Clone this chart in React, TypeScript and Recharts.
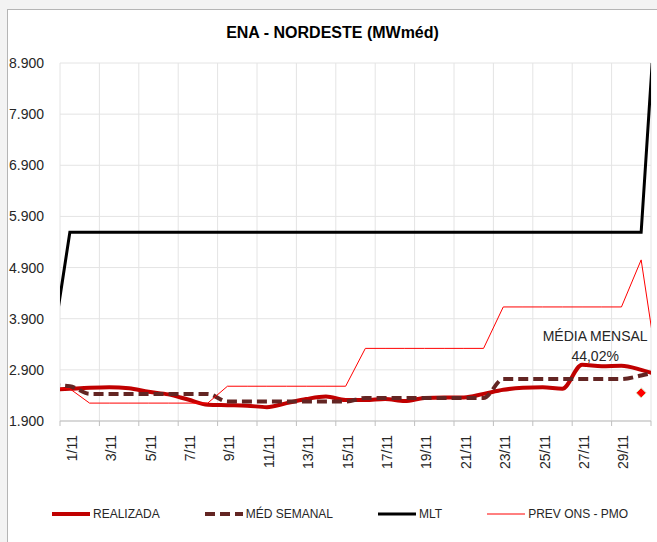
import { ComposedChart, Line, Scatter, XAxis, YAxis, CartesianGrid, Legend } from "recharts";

// dias de novembro (0 = 31/10, 31 = 1/12, cortados pela área do gráfico)
const days = [0, 1, 2, 3, 4, 5, 6, 7, 8, 9, 10, 11, 12, 13, 14, 15, 16, 17, 18, 19, 20, 21, 22, 23, 24, 25, 26, 27, 28, 29, 30, 31];

const realizada = [2510, 2530, 2550, 2560, 2540, 2470, 2420, 2320, 2220, 2210, 2200, 2170, 2250, 2330, 2380, 2310, 2310, 2330, 2290, 2350, 2360, 2360, 2430, 2510, 2550, 2560, 2530, 3000, 2970, 2980, 2900, 2780];
const medSemanal = [2600, 2580, 2430, 2430, 2430, 2430, 2430, 2430, 2430, 2280, 2280, 2280, 2280, 2280, 2280, 2280, 2350, 2350, 2350, 2350, 2350, 2350, 2350, 2720, 2720, 2720, 2720, 2720, 2720, 2720, 2790, 2880];
const mlt = [3070, 5590, 5590, 5590, 5590, 5590, 5590, 5590, 5590, 5590, 5590, 5590, 5590, 5590, 5590, 5590, 5590, 5590, 5590, 5590, 5590, 5590, 5590, 5590, 5590, 5590, 5590, 5590, 5590, 5590, 5590, 11500];
const prevOns = [2530, 2530, 2250, 2250, 2250, 2250, 2250, 2250, 2250, 2580, 2580, 2580, 2580, 2580, 2580, 2580, 3320, 3320, 3320, 3320, 3320, 3320, 3320, 4130, 4130, 4130, 4130, 4130, 4130, 4130, 5050, 2500];

const mediaMensalDay = 30;
const mediaMensalValue = 2450;
const mediaMensalText = ["MÉDIA MENSAL", "44,02%"];

const yTicks = [1900, 2900, 3900, 4900, 5900, 6900, 7900, 8900];
const gridTicks = [0.5, 2.5, 4.5, 6.5, 8.5, 10.5, 12.5, 14.5, 16.5, 18.5, 20.5, 22.5, 24.5, 26.5, 28.5, 30.5];
const labelTicks = [1, 3, 5, 7, 9, 11, 13, 15, 17, 19, 21, 23, 25, 27, 29];

const data = days.map((day, i) => ({
  day,
  realizada: realizada[i],
  medSemanal: medSemanal[i],
  mlt: mlt[i],
  prevOns: prevOns[i],
}));
const mediaData = [{ day: mediaMensalDay, media: mediaMensalValue }];

const series = [
  { key: "realizada", name: "REALIZADA", color: "#c00000", width: 4, dash: undefined as string | undefined },
  { key: "medSemanal", name: "MÉD SEMANAL", color: "#632523", width: 4, dash: "10 5" },
  { key: "mlt", name: "MLT", color: "#000000", width: 3, dash: undefined },
  { key: "prevOns", name: "PREV ONS - PMO", color: "#ff0000", width: 1, dash: undefined },
];

const FONT = '"Liberation Sans", Arial, sans-serif';
const TEXT = "#262626";

const fmtMil = (v: number) => `${Math.floor(v / 1000)}.${String(v % 1000).padStart(3, "0")}`;

function DayTick({ x, y, payload }: any) {
  return (
    <text
      x={x}
      y={y}
      transform={`rotate(-90, ${x}, ${y})`}
      textAnchor="end"
      dy="0.5em"
      fontSize={14}
      fill={TEXT}
    >
      {`${payload.value}/11`}
    </text>
  );
}

function MediaShape({ cx, cy }: any) {
  if (cx == null || cy == null) return null;
  return (
    <g>
      <path
        d={`M${cx},${cy - 5}L${cx + 5},${cy}L${cx},${cy + 5}L${cx - 5},${cy}Z`}
        fill="#ff0000"
        stroke="#d7e4bd"
        strokeWidth={1}
      />
      <text x={cx - 46} y={cy - 52} textAnchor="middle" fontSize={14} fill={TEXT}>
        {mediaMensalText[0]}
      </text>
      <text x={cx - 46} y={cy - 32} textAnchor="middle" fontSize={14} fill={TEXT}>
        {mediaMensalText[1]}
      </text>
    </g>
  );
}

function LegendContent() {
  return (
    <div
      style={{
        display: "flex",
        alignItems: "center",
        gap: 45,
        paddingLeft: 44,
        height: 16,
        fontSize: 12,
        color: TEXT,
        fontFamily: FONT,
      }}
    >
      {series.map((s) => (
        <div key={s.key} style={{ display: "flex", alignItems: "center" }}>
          <svg width={38} height={10}>
            <line x1={0} y1={5} x2={38} y2={5} stroke={s.color} strokeWidth={s.width} strokeDasharray={s.dash} />
          </svg>
          <span style={{ marginLeft: 3, whiteSpace: "nowrap" }}>{s.name}</span>
        </div>
      ))}
    </div>
  );
}

export default function App() {
  return (
    <div style={{ position: "fixed", left: 0, top: 0, width: 657, height: 542, overflow: "hidden", background: "#f3f3f3", fontFamily: FONT }}>
      <div
        style={{
          position: "absolute",
          left: 7,
          top: 9,
          width: 650,
          height: 533,
          boxSizing: "border-box",
          borderLeft: "1px solid #b5b5b5",
          borderTop: "1px solid #b5b5b5",
          background: "#ffffff",
        }}
      >
        <div
          style={{
            position: "absolute",
            left: 0,
            top: 14,
            width: 649,
            textAlign: "center",
            fontSize: 16,
            lineHeight: "18px",
            fontWeight: "bold",
            color: "#000",
          }}
        >
          ENA - NORDESTE (MWméd)
        </div>
        <ComposedChart width={649} height={532} data={data} margin={{ top: 53, right: 6, bottom: 20, left: 0 }}>
          <CartesianGrid xAxisId="g" stroke="#e4e4e4" verticalPoints={undefined} />
          <XAxis
            xAxisId="g"
            type="number"
            dataKey="day"
            domain={[0.5, 30.5]}
            ticks={gridTicks}
            interval={0}
            allowDataOverflow
            tickFormatter={() => ""}
            axisLine={{ stroke: "#bfbfbf" }}
            tickLine={{ stroke: "#bfbfbf" }}
            tickSize={5}
            height={6}
          />
          <XAxis
            xAxisId="l"
            type="number"
            dataKey="day"
            domain={[0.5, 30.5]}
            ticks={labelTicks}
            interval={0}
            allowDataOverflow
            axisLine={false}
            tickLine={false}
            tick={<DayTick />}
            height={79}
          />
          <YAxis
            type="number"
            domain={[1900, 8900]}
            ticks={yTicks}
            interval={0}
            allowDataOverflow
            axisLine={false}
            tickLine={false}
            tickSize={0}
            tickMargin={16}
            width={52}
            tickFormatter={fmtMil}
            tick={{ fontSize: 14, fill: TEXT }}
          />
          <Legend verticalAlign="bottom" content={<LegendContent />} />
          {series.map((s) => (
            <Line
              key={s.key}
              xAxisId="g"
              type={s.key === "realizada" || s.key === "medSemanal" ? "monotone" : "linear"}
              dataKey={s.key}
              name={s.name}
              stroke={s.color}
              strokeWidth={s.width}
              strokeDasharray={s.dash}
              dot={false}
              activeDot={false}
              isAnimationActive={false}
            />
          ))}
          <Scatter
            xAxisId="g"
            data={mediaData}
            dataKey="media"
            shape={<MediaShape />}
            legendType="none"
            isAnimationActive={false}
          />
        </ComposedChart>
      </div>
    </div>
  );
}
